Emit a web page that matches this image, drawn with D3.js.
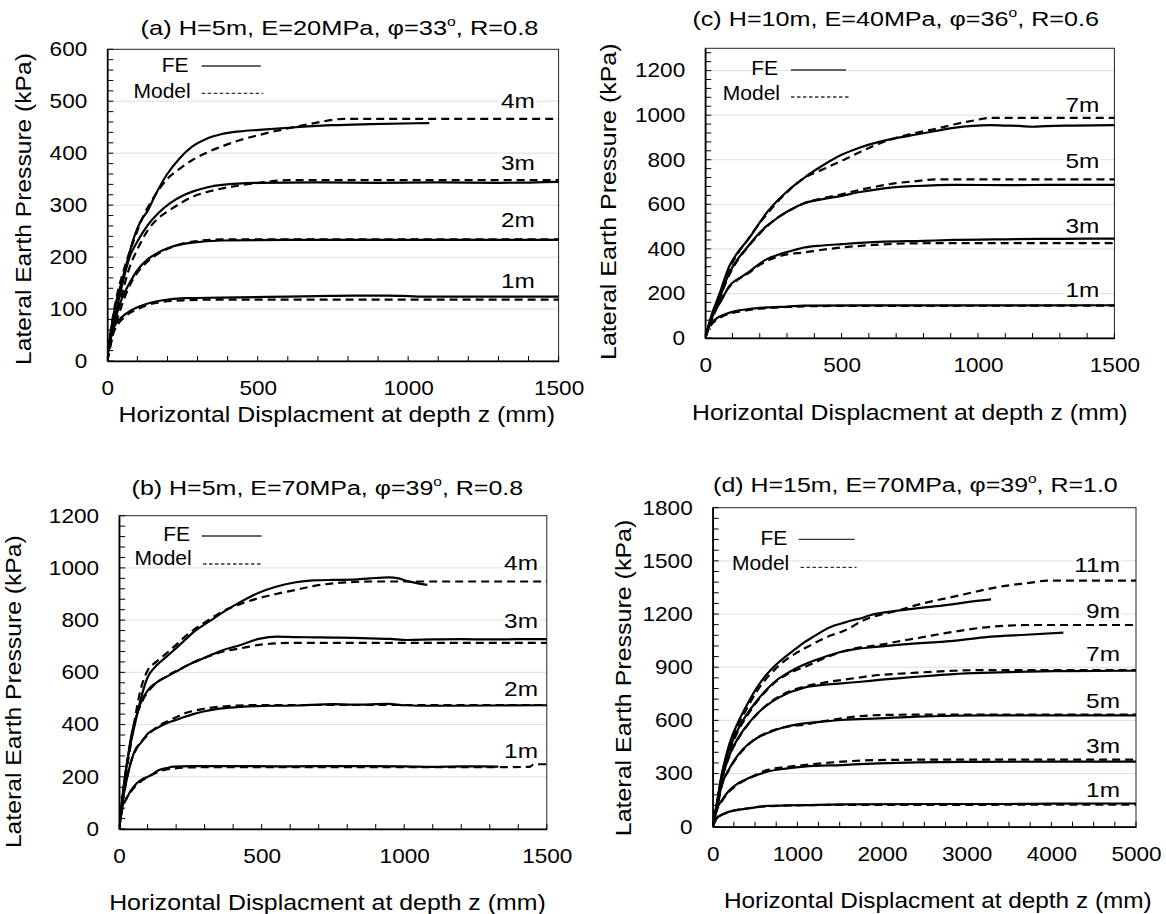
<!DOCTYPE html>
<html><head><meta charset="utf-8">
<script src="https://cdn.jsdelivr.net/npm/d3@7"></script>
<style>body{margin:0;background:#fff} text{font-family:"Liberation Sans",Arial,sans-serif;fill:#000}</style>
</head><body><svg id="c" width="1166" height="914"></svg>
<script>
// ---------- tick labels ----------
const aXTicks = [0, 500, 1000, 1500];
const aYTicks = [0, 100, 200, 300, 400, 500, 600];
const bXTicks = [0, 500, 1000, 1500];
const bYTicks = [0, 200, 400, 600, 800, 1000, 1200];
const cXTicks = [0, 500, 1000, 1500];
const cYTicks = [0, 200, 400, 600, 800, 1000, 1200];
const dXTicks = [0, 1000, 2000, 3000, 4000, 5000];
const dYTicks = [0, 300, 600, 900, 1200, 1500, 1800];

// ---------- depth categories ----------
const aDepths = ["4m", "3m", "2m", "1m"];
const bDepths = ["4m", "3m", "2m", "1m"];
const cDepths = ["7m", "5m", "3m", "1m"];
const dDepths = ["11m", "9m", "7m", "5m", "3m", "1m"];

// ---------- panel (a) ----------
const a4_FE = [[0,10],[15,70],[30,115],[49,155],[70,200],[86,233],[117,275],[130,285],[160,320],[197,358],[240,390],[283,413],[330,428],[381,437],[440,442],[504,445],[627,450],[750,454],[873,456],[1070,458]];
const a4_Model = [[0,0],[12,60],[30,120],[60,185],[90,235],[117,275],[160,320],[197,349],[240,370],[283,387],[330,401],[381,413],[440,425],[504,435],[602,448],[689,458],[787,466],[1500,466]];
const a3_FE = [[0,10],[15,55],[35,110],[55,160],[74,200],[100,230],[135,262],[170,285],[209,304],[250,318],[283,326],[330,334],[381,339],[504,343],[700,344],[900,343],[1100,344],[1300,343],[1500,345]];
const a3_Model = [[0,0],[20,60],[45,120],[74,180],[100,215],[135,252],[170,275],[209,291],[250,306],[283,316],[330,325],[381,332],[440,338],[504,343],[602,348],[1500,348]];
const a2_FE = [[0,10],[20,65],[45,115],[74,150],[100,175],[135,196],[170,209],[209,219],[250,225],[283,228],[381,232],[600,233],[900,233],[1500,233]];
const a2_Model = [[0,0],[25,65],[50,110],[74,145],[100,170],[135,192],[170,207],[209,218],[250,226],[300,231],[381,234],[1500,234]];
const a1_FE = [[0,10],[12,50],[30,73],[49,85],[80,98],[111,106],[150,113],[184,117],[258,121],[381,122],[600,124],[700,125],[811,126],[934,126],[1000,125],[1057,124],[1200,124],[1500,124]];
const a1_Model = [[0,0],[15,45],[35,70],[60,86],[100,100],[140,109],[184,114],[258,117],[350,118],[1500,118]];

// ---------- panel (b) ----------
const b4_FE = [[0,0],[10,110],[20,200],[36,303],[55,400],[75,494],[101,583],[130,625],[166,660],[200,693],[231,724],[260,753],[296,781],[330,805],[361,828],[426,870],[490,905],[550,928],[620,945],[680,952],[750,954],[820,955],[880,960],[945,964],[980,960],[1009,950],[1040,943],[1081,935]];
const b4_Model = [[0,0],[10,100],[20,190],[36,290],[55,420],[75,532],[101,609],[130,640],[166,673],[200,705],[231,737],[260,762],[296,788],[330,812],[361,832],[426,862],[490,884],[550,900],[620,916],[680,930],[750,941],[820,946],[880,948],[1500,948]];
const b3_FE = [[0,0],[10,100],[25,230],[45,370],[60,430],[75,481],[101,532],[130,560],[166,583],[200,603],[231,622],[260,638],[296,654],[330,670],[361,684],[426,705],[490,728],[555,737],[620,735],[685,734],[750,733],[820,732],[880,730],[950,728],[1009,724],[1100,726],[1200,727],[1300,726],[1400,727],[1500,727]];
const b3_Model = [[0,0],[15,140],[35,300],[55,410],[75,475],[101,525],[130,558],[166,585],[200,605],[231,622],[260,638],[296,654],[330,667],[361,679],[426,692],[490,705],[555,711],[620,713],[1500,713]];
const b2_FE = [[0,0],[10,90],[25,180],[45,270],[60,310],[75,328],[101,366],[130,385],[166,405],[200,418],[231,430],[260,440],[296,450],[330,457],[361,462],[426,468],[490,471],[620,473],[750,478],[820,476],[945,479],[1000,474],[1100,472],[1300,473],[1500,474]];
const b2_Model = [[0,0],[15,120],[35,230],[60,305],[75,330],[101,360],[130,388],[166,411],[200,428],[231,443],[260,452],[296,460],[361,469],[490,475],[1500,475]];
const b1_FE = [[0,0],[8,60],[15,100],[23,111],[40,145],[62,175],[80,190],[101,200],[120,212],[140,226],[165,233],[192,239],[250,241],[361,241],[600,240],[800,241],[1000,240],[1100,238],[1200,240],[1330,239]];
const b1_Model = [[0,0],[10,70],[25,115],[50,155],[80,185],[110,205],[140,220],[166,228],[192,232],[250,236],[400,237],[800,237],[1100,237],[1330,237],[1440,238],[1455,248],[1500,248]];

// ---------- panel (c) ----------
const c7_FE = [[0,0],[20,90],[50,190],[89,324],[120,385],[158,443],[190,500],[226,563],[260,610],[295,652],[330,688],[363,719],[432,775],[500,822],[568,855],[637,880],[700,897],[774,913],[850,930],[911,943],[980,952],[1048,955],[1100,953],[1150,952],[1200,948],[1250,951],[1350,953],[1500,955]];
const c7_Model = [[0,0],[30,120],[60,220],[89,310],[120,380],[158,445],[190,500],[226,555],[260,605],[295,648],[330,688],[363,718],[432,757],[500,795],[568,835],[637,872],[700,898],[774,921],[850,940],[911,958],[980,975],[1048,988],[1500,988]];
const c5_FE = [[0,0],[20,80],[50,170],[89,294],[120,355],[158,413],[190,460],[226,503],[260,535],[295,563],[330,587],[363,605],[430,623],[500,638],[568,655],[637,668],[700,677],[774,682],[911,687],[1100,686],[1300,687],[1500,687]];
const c5_Model = [[0,0],[25,95],[55,185],[89,285],[120,350],[158,410],[190,455],[226,500],[260,535],[295,563],[330,585],[363,605],[430,627],[500,645],[568,665],[637,682],[700,695],[774,704],[843,712],[1500,712]];
const c3_FE = [[0,0],[15,60],[40,130],[60,170],[89,234],[120,265],[158,294],[190,325],[226,354],[260,370],[295,384],[330,396],[363,406],[430,415],[500,421],[637,431],[800,436],[911,440],[1100,443],[1300,445],[1500,446]];
const c3_Model = [[0,0],[20,70],[45,140],[89,230],[120,262],[158,290],[190,320],[226,346],[260,362],[295,374],[363,384],[430,396],[500,406],[637,419],[774,425],[1000,426],[1500,426]];
const c1_FE = [[0,0],[10,40],[25,70],[48,93],[80,110],[116,122],[160,130],[226,137],[300,141],[363,145],[600,146],[1000,146],[1500,147]];
const c1_Model = [[0,0],[15,45],[35,75],[60,95],[100,112],[150,124],[226,134],[300,139],[363,142],[500,144],[1500,145]];

// ---------- panel (d) ----------
const d11_FE = [[0,0],[40,100],[110,300],[199,470],[300,590],[419,700],[530,790],[640,860],[750,915],[861,960],[970,1000],[1081,1040],[1200,1075],[1302,1105],[1400,1128],[1523,1147],[1650,1165],[1743,1175],[1850,1192],[1964,1204],[2185,1219],[2405,1232],[2600,1242],[2847,1256],[3050,1270],[3288,1283]];
const d11_Model = [[0,0],[50,110],[110,280],[199,440],[300,570],[419,680],[530,770],[640,840],[750,895],[861,940],[970,975],[1081,1005],[1200,1035],[1302,1060],[1400,1080],[1523,1100],[1650,1130],[1743,1156],[1850,1178],[1964,1194],[2185,1219],[2405,1250],[2600,1273],[2847,1298],[3050,1320],[3288,1345],[3500,1362],[3729,1375],[3950,1388],[5000,1388]];
const d9_FE = [[0,0],[40,110],[110,300],[199,440],[300,550],[419,645],[530,715],[640,775],[750,825],[861,860],[970,890],[1081,915],[1200,938],[1302,955],[1400,970],[1523,987],[1700,1003],[1964,1016],[2185,1026],[2405,1034],[2600,1040],[2847,1049],[3050,1060],[3288,1072],[3700,1083],[4142,1095]];
const d9_Model = [[0,0],[50,120],[110,285],[199,425],[300,540],[419,635],[530,710],[640,770],[750,820],[861,855],[970,880],[1081,900],[1200,925],[1302,948],[1400,966],[1523,987],[1700,1008],[1964,1025],[2185,1045],[2405,1063],[2600,1080],[2847,1100],[3050,1115],[3288,1128],[3500,1135],[3729,1138],[5000,1138]];
const d7_FE = [[0,0],[40,100],[110,270],[199,405],[300,500],[419,580],[530,640],[640,685],[750,720],[861,748],[970,768],[1081,785],[1300,800],[1523,809],[1750,818],[1964,828],[2185,837],[2405,846],[2600,853],[2847,861],[3288,869],[3729,875],[4200,878],[5000,880]];
const d7_Model = [[0,0],[50,115],[110,265],[199,400],[300,495],[419,578],[530,638],[640,688],[750,725],[861,755],[970,775],[1081,790],[1300,812],[1523,828],[1750,843],[1964,856],[2185,863],[2405,869],[2847,880],[3300,884],[5000,884]];
const d5_FE = [[0,0],[40,90],[110,240],[199,330],[300,405],[419,465],[530,502],[640,527],[750,547],[861,564],[970,575],[1081,583],[1300,593],[1523,602],[1964,611],[2405,621],[2847,626],[3300,628],[4000,628],[5000,628]];
const d5_Model = [[0,0],[50,100],[110,235],[199,325],[300,400],[419,462],[530,503],[640,530],[750,550],[861,562],[970,570],[1081,575],[1300,595],[1523,611],[1743,624],[1964,630],[2400,632],[5000,632]];
const d3_FE = [[0,0],[30,80],[110,150],[199,207],[300,245],[419,273],[530,293],[640,310],[861,328],[1081,339],[1523,348],[1964,357],[2405,363],[3000,366],[4000,367],[5000,367]];
const d3_Model = [[0,0],[40,80],[110,145],[199,200],[300,240],[419,272],[530,298],[640,320],[861,337],[1081,348],[1300,358],[1523,367],[1964,376],[2500,378],[5000,378]];
const d1_FE = [[0,0],[30,35],[66,56],[130,72],[199,85],[300,95],[419,103],[640,117],[861,120],[1081,122],[1523,126],[2500,128],[3500,128],[4000,130],[5000,131]];
const d1_Model = [[0,0],[40,40],[100,65],[199,85],[300,96],[419,104],[640,115],[1081,121],[1523,123],[5000,124]];

// ---------- layout ----------
const panels = [
  { title:"(a) H=5m, E=20MPa, φ=33", tail:", R=0.8", box:{l:107.3,r:558.6,t:49.3,b:361}, xMax:1500, yMax:600,
    xTicks:aXTicks, yTicks:aYTicks, xMinor:100, yMinor:20,
    depths:aDepths, fe:[a4_FE,a3_FE,a2_FE,a1_FE], model:[a4_Model,a3_Model,a2_Model,a1_Model],
    labX:1421, labY:[486.5,367,258,140],
    titleP:{cx:339.5,y:35,w:398}, xTitleP:{cx:336.7,y:421.7,w:436.6}, yTitleP:{x:31,cy:209,w:312},
    leg:{feEnd:188.5,feBase:72,feLine:[201.6,260.8,66], mEnd:190.7,mBase:98.3,mLine:[201.7,263.3,93.3]} },
  { title:"(c) H=10m, E=40MPa, φ=36", tail:", R=0.6", box:{l:705.2,r:1114.4,t:48.3,b:338}, xMax:1500, yMax:1300,
    xTicks:cXTicks, yTicks:cYTicks, xMinor:100, yMinor:40,
    depths:cDepths, fe:[c7_FE,c5_FE,c3_FE,c1_FE], model:[c7_Model,c5_Model,c3_Model,c1_Model],
    labX:1445, labY:[1016,762,470,185],
    titleP:{cx:895.7,y:26,w:407}, xTitleP:{cx:909.8,y:420,w:435.5}, yTitleP:{x:615.5,cy:201.7,w:316.7},
    leg:{feEnd:778,feBase:75,feLine:[791,846,70], mEnd:780,mBase:100,mLine:[791,849,97]} },
  { title:"(b) H=5m, E=70MPa, φ=39", tail:", R=0.8", box:{l:119.1,r:546.8,t:515.7,b:829}, xMax:1500, yMax:1200,
    xTicks:bXTicks, yTicks:bYTicks, xMinor:100, yMinor:40,
    depths:bDepths, fe:[b4_FE,b3_FE,b2_FE,b1_FE], model:[b4_Model,b3_Model,b2_Model,b1_Model],
    labX:1469, labY:[992,769,508,272],
    titleP:{cx:327.4,y:495,w:392}, xTitleP:{cx:327.4,y:910,w:436.7}, yTitleP:{x:20.5,cy:691.7,w:313},
    leg:{feEnd:190,feBase:540.7,feLine:[201.7,261.7,536], mEnd:191.7,mBase:565,mLine:[203,261.7,564]} },
  { title:"(d) H=15m, E=70MPa, φ=39", tail:", R=1.0", box:{l:712.7,r:1136,t:507.7,b:826.7}, xMax:5000, yMax:1800,
    xTicks:dXTicks, yTicks:dYTicks, xMinor:250, yMinor:60,
    depths:dDepths, fe:[d11_FE,d9_FE,d7_FE,d5_FE,d3_FE,d1_FE], model:[d11_Model,d9_Model,d7_Model,d5_Model,d3_Model,d1_Model],
    labX:4811, labY:[1439,1177,933,668,414,169],
    titleP:{cx:915.4,y:491.7,w:405}, xTitleP:{cx:937.8,y:908.3,w:428}, yTitleP:{x:631,cy:678,w:316.7},
    leg:{feEnd:787.4,feBase:545,feLine:[798.6,854.7,539.3], mEnd:789.3,mBase:570,mLine:[800.5,856.5,567.3]} }
];

const svg = d3.select("#c");
const TICK_FS = 20, TICK_K = 1.13, LAB_FS = 20, LAB_K = 1.22;

function fitText(parent, main, sup, tail, cx, cy, rot, target, fs) {
  const t = parent.append("text").attr("text-anchor", "middle").style("font-size", fs + "px");
  t.append("tspan").text(main);
  if (sup) {
    t.append("tspan").text(sup).style("font-size", (fs * 0.62) + "px").attr("dy", -fs * 0.42);
    t.append("tspan").text(tail).attr("dy", fs * 0.42);
  }
  const len = t.node().getComputedTextLength();
  const k = target / len;
  t.attr("transform", `translate(${cx},${cy}) rotate(${rot}) scale(${k},1)`);
  return t;
}

panels.forEach((p, pi) => {
  const g = svg.append("g");
  const x = d3.scaleLinear().domain([0, p.xMax]).range([p.box.l, p.box.r]);
  const y = d3.scaleLinear().domain([0, p.yMax]).range([p.box.b, p.box.t]);

  // gridlines
  g.selectAll(".grid").data(p.yTicks.filter(v => v > 0 && v < p.yMax)).join("line")
    .attr("x1", p.box.l).attr("x2", p.box.r).attr("y1", d => y(d)).attr("y2", d => y(d))
    .attr("stroke", "#dedede").attr("stroke-width", 1);

  // frame
  g.append("rect").attr("x", p.box.l).attr("y", p.box.t).attr("width", p.box.r - p.box.l).attr("height", p.box.b - p.box.t)
    .attr("fill", "none").attr("stroke", "#222").attr("stroke-width", 1);

  // minor + major ticks (inward)
  const xt = d3.range(0, p.xMax + 1e-6, p.xMinor);
  const yt = d3.range(0, p.yMax + 1e-6, p.yMinor);
  g.selectAll(".xt").data(xt).join("line")
    .attr("x1", d => x(d)).attr("x2", d => x(d)).attr("y1", p.box.b).attr("y2", p.box.b - 5)
    .attr("stroke", "#000").attr("stroke-width", 1);
  g.selectAll(".yt").data(yt).join("line")
    .attr("x1", p.box.l).attr("x2", p.box.l + 6).attr("y1", d => y(d)).attr("y2", d => y(d))
    .attr("stroke", "#000").attr("stroke-width", 1);

  // axes labels via d3.axis
  const ax = g.append("g").attr("transform", `translate(0,${p.box.b})`)
    .call(d3.axisBottom(x).tickValues(p.xTicks).tickFormat(d3.format("d")).tickSize(0).tickPadding(20));
  const ay = g.append("g").attr("transform", `translate(${p.box.l},0)`)
    .call(d3.axisLeft(y).tickValues(p.yTicks).tickFormat(d3.format("d")).tickSize(0).tickPadding(20));
  [ax, ay].forEach(a => {
    a.select(".domain").attr("stroke", "#000").attr("stroke-width", 1.6);
    a.selectAll("text").style("font-size", TICK_FS + "px").style("font-family", '"Liberation Sans",Arial,sans-serif')
      .each(function () {
        const t = d3.select(this);
        const tx = +t.attr("x") || 0, ty = +t.attr("y") || 0;
        t.attr("x", 0).attr("y", 0).attr("transform", `translate(${tx},${ty}) scale(${TICK_K},1)`);
      });
  });

  // clip
  const cid = "clip" + pi;
  svg.append("clipPath").attr("id", cid).append("rect")
    .attr("x", p.box.l).attr("y", p.box.t - 2).attr("width", p.box.r - p.box.l + 1).attr("height", p.box.b - p.box.t + 2);

  const line = d3.line().x(d => x(d[0])).y(d => y(d[1])).curve(d3.curveMonotoneX);
  const lg = g.append("g").attr("clip-path", `url(#${cid})`);
  p.model.forEach(s => lg.append("path").attr("d", line(s)).attr("fill", "none")
    .attr("stroke", "#000").attr("stroke-width", 2.2).attr("stroke-dasharray", "8,5"));
  p.fe.forEach(s => lg.append("path").attr("d", line(s)).attr("fill", "none")
    .attr("stroke", "#000").attr("stroke-width", 2.2));

  // depth labels with white background
  p.depths.forEach((lab, i) => {
    const lgp = g.append("g").attr("transform", `translate(${x(p.labX)},${y(p.labY[i])}) scale(${LAB_K},1)`);
    const bg = lgp.append("rect").attr("fill", "#fff");
    const t = lgp.append("text").attr("text-anchor", "end").style("font-size", LAB_FS + "px").text(lab);
    const bb = t.node().getBBox();
    bg.attr("x", bb.x - 1).attr("y", bb.y + 2).attr("width", bb.width + 2).attr("height", bb.height - 4);
  });

  // legend
  const L = p.leg;
  g.append("text").attr("x", L.feEnd).attr("y", L.feBase).attr("text-anchor", "end").style("font-size", "21px").text("FE");
  g.append("text").attr("x", L.mEnd).attr("y", L.mBase).attr("text-anchor", "end").style("font-size", "21px").text("Model");
  g.append("line").attr("x1", L.feLine[0]).attr("x2", L.feLine[1]).attr("y1", L.feLine[2]).attr("y2", L.feLine[2])
    .attr("stroke", "#333").attr("stroke-width", 1.3);
  g.append("line").attr("x1", L.mLine[0]).attr("x2", L.mLine[1]).attr("y1", L.mLine[2]).attr("y2", L.mLine[2])
    .attr("stroke", "#333").attr("stroke-width", 1.3).attr("stroke-dasharray", "3.5,2.5");

  // titles
  fitText(g, p.title, "o", p.tail, p.titleP.cx, p.titleP.y, 0, p.titleP.w, 21);
  fitText(g, "Horizontal Displacment at depth z (mm)", null, null, p.xTitleP.cx, p.xTitleP.y, 0, p.xTitleP.w, 22);
  fitText(g, "Lateral Earth Pressure (kPa)", null, null, p.yTitleP.x, p.yTitleP.cy, -90, p.yTitleP.w, 22);
});
</script>
</body></html>
